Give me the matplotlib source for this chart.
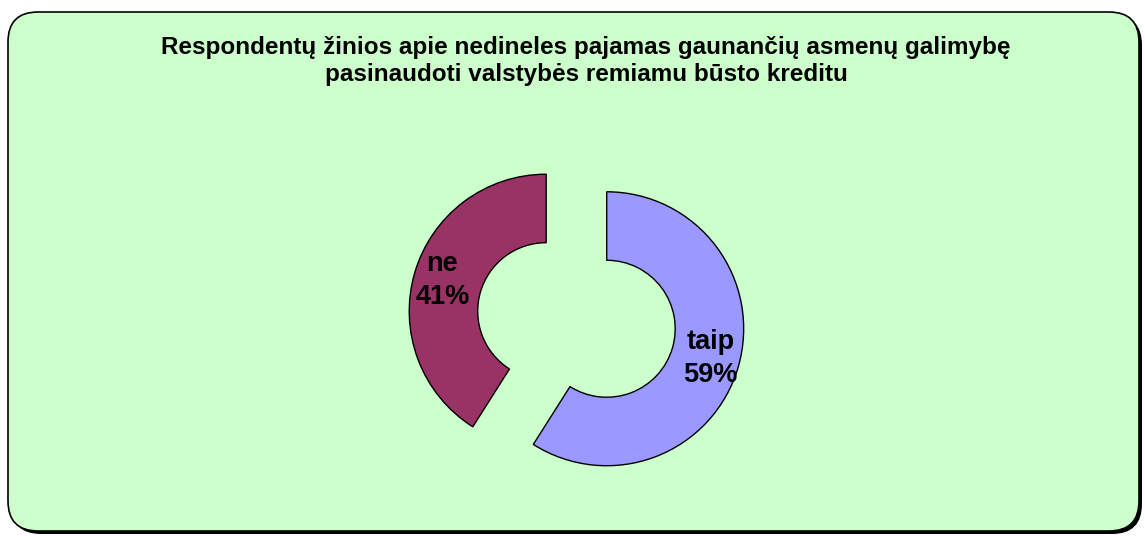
import matplotlib.pyplot as plt
from matplotlib.patches import FancyBboxPatch

plt.rcParams['font.family'] = ['Liberation Sans', 'DejaVu Sans']

title = 'Respondentų žinios apie nedineles pajamas gaunančių asmenų galimybę\npasinaudoti valstybės remiamu būsto kreditu'
labels = ['taip', 'ne']
values = [59, 41]
colors = ['#9999FF', '#993366']

fig = plt.figure(figsize=(11.45, 5.36), dpi=100)
fig.patch.set_facecolor('white')

# background frame in pixel coords
bg = fig.add_axes([0, 0, 1, 1])
bg.set_xlim(0, 1145)
bg.set_ylim(536, 0)
bg.axis('off')
shadow = FancyBboxPatch((11, 15), 1131, 519, boxstyle='round,pad=0,rounding_size=30',
                        facecolor='black', edgecolor='none')
bg.add_patch(shadow)
frame = FancyBboxPatch((8, 12), 1131, 519, boxstyle='round,pad=0,rounding_size=30',
                       facecolor='#CCFFCC', edgecolor='black', linewidth=1.2)
bg.add_patch(frame)
bg.text(586, 61, title, ha='center', va='center', fontsize=17.5, fontweight='bold',
        linespacing=1.22)

ax = fig.add_axes([0.3288, 0.0299, 0.3493, 0.7463])
ax.set_aspect('equal')
ax.axis('off')

wedges, texts, autotexts = ax.pie(
    values, colors=colors, startangle=90, counterclock=False,
    explode=[0.23, 0.23], autopct='%d%%', pctdistance=0.79,
    wedgeprops=dict(width=0.5, edgecolor='black', linewidth=1),
    textprops=dict(fontsize=19.5, fontweight='bold', color='black'))
for t, lab, v in zip(autotexts, labels, values):
    t.set_text(f'{lab}\n{v}%')
    t.set_linespacing(1.35)
ax.set_xlim(-1.46, 1.46)
ax.set_ylim(-1.46, 1.46)

fig.savefig('out.png', dpi=100)
